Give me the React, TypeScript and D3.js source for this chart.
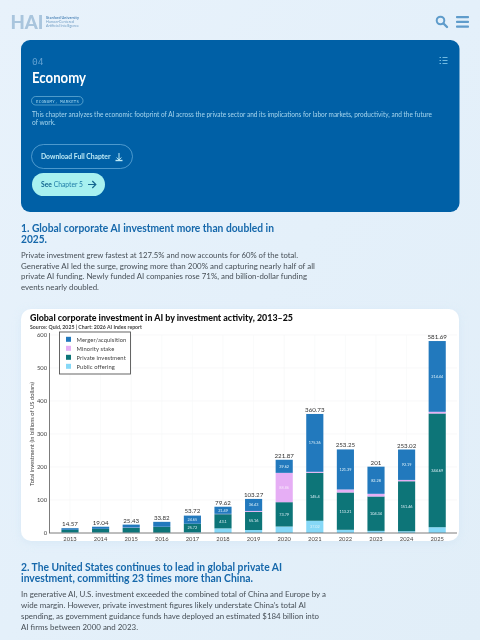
import React from "react";
import * as d3 from "d3";

const years = ["2013","2014","2015","2016","2017","2018","2019","2020","2021","2022","2023","2024","2025"];
const publicOffering = [1.5,1.5,1,0.8,2.35,14,9,19.6,37.02,9.65,6.38,5.37,17.56];
const privateInvestment = [8,11,14.5,17.5,25.72,43.1,55.16,73.79,145.4,113.21,104.34,151.46,344.69];
const minorityStake = [0.07,0.04,0.93,0.52,0,1.03,2.68,88.86,2.95,9,8,4,5];
const mergerAcquisition = [5,6.5,9,15,24.65,21.49,36.43,39.62,175.36,121.39,82.28,92.19,214.44];
const totals = ["14.57","19.04","25.43","33.82","53.72","79.62","103.27","221.87","360.73","253.25","201","253.02","581.69"];
const seriesNames = ["Public offering","Private investment","Minority stake","Merger/acquisition"];
const seriesColors = ["#86d8f7","#0f7478","#e6aef5","#2379bd"];
const legendOrder = [3,2,1,0];
const yTicks = [0,100,200,300,400,500,600];

const introLines = ["Private investment grew fastest at 127.5% and now accounts for 60% of the total.","Generative AI led the surge, growing more than 200% and capturing nearly half of all","private AI funding. Newly funded AI companies rose 71%, and billion-dollar funding","events nearly doubled."];
const introWidths = [277,294,286,78];
const usLines = ["In generative AI, U.S. investment exceeded the combined total of China and Europe by a","wide margin. However, private investment figures likely understate China’s total AI","spending, as government guidance funds have deployed an estimated $184 billion into","AI firms between 2000 and 2023."];
const usWidths = [305,285,298,117];

const F = "Lato, 'Noto Sans', sans-serif";
const MONO = "'DejaVu Sans Mono', monospace";

const x = d3.scaleBand<string>().domain(years).range([54.7, 452.5]).paddingInner(0.44).paddingOuter(0.22);
const y = d3.scaleLinear().domain([0, 600]).range([533, 335]);
const table = years.map((year, i) => ({ year, a: publicOffering[i], b: privateInvestment[i], c: minorityStake[i], d: mergerAcquisition[i] }));
const stacked = d3.stack<any>().keys(["a","b","c","d"])(table);

export default function App() {
  return (
    <svg width={480} height={640} viewBox="0 0 480 640" style={{ position: "absolute", left: 0, top: 0, display: "block" }} fontFamily={F}>
      <defs>
        <linearGradient id="bg" x1="0" y1="0" x2="1" y2="1">
          <stop offset="0" stopColor="#e8f2fb" /><stop offset="0.5" stopColor="#e4f0fa" /><stop offset="1" stopColor="#e1eef8" />
        </linearGradient>
        <filter id="soft" x="-10%" y="-10%" width="120%" height="120%"><feGaussianBlur stdDeviation="4" /></filter>
        <filter id="b" x="-2%" y="-2%" width="104%" height="104%"><feGaussianBlur stdDeviation="0.25" /></filter>
      </defs>
      <rect width={480} height={640} fill="url(#bg)" />
      <g filter="url(#b)">
        {/* header */}
        <text x={10.5} y={28.5} fontSize={18.5} fontWeight={900} fill="#a9c5dd" textLength={33} lengthAdjust="spacingAndGlyphs">HAI</text>
        <g fontSize={3.7} fill="#6f9cc4">
          <text x={46} y={18.8} fontWeight={700} fill="#4f86b8" textLength={33}>Stanford University</text>
          <text x={46} y={22.8} textLength={28}>Human-Centered</text>
          <text x={46} y={26.8} textLength={33}>Artificial Intelligence</text>
        </g>
        <circle cx={440.5} cy={20.5} r={3.8} fill="none" stroke="#5f9ccb" strokeWidth={2} />
        <line x1={443.5} y1={23.5} x2={447} y2={27} stroke="#5f9ccb" strokeWidth={2.4} strokeLinecap="round" />
        {[17, 21.8, 26.5].map(v => <rect key={v} x={456} y={v - 1} width={13} height={2.2} rx={0.8} fill="#5f9ccb" />)}

        {/* chapter card */}
        <rect x={21} y={40} width={438.5} height={172} rx={9} fill="#0060a6" />
        <text x={32} y={64.5} fontFamily={MONO} fontSize={9.5} fill="#5f9fd0">04</text>
        <text x={32} y={83} fontSize={14.5} fontWeight={700} fill="#ffffff" textLength={54} lengthAdjust="spacingAndGlyphs">Economy</text>
        {[57.5, 60.5, 63.5].map(v => (
          <g key={v} stroke="#8fd2f0" strokeWidth={0.8}>
            <line x1={439.5} y1={v} x2={441} y2={v} /><line x1={442.5} y1={v} x2={447.5} y2={v} />
          </g>
        ))}
        <rect x={31.5} y={96.5} width={51.5} height={8.5} rx={4.2} fill="none" stroke="#9fd6ef" strokeWidth={0.5} />
        <text x={36} y={102.5} fontFamily={MONO} fontSize={4} fill="#a8daf0" textLength={43}>ECONOMY, MARKETS</text>
        <g fontSize={6.6} fill="#a6d6ee">
          <text x={32} y={117} textLength={400} lengthAdjust="spacingAndGlyphs">This chapter analyzes the economic footprint  of AI across the private sector and its implications for labor markets, productivity, and the future</text>
          <text x={32} y={125}>of work.</text>
        </g>
        <rect x={31.5} y={144.5} width={101} height={24} rx={12} fill="none" stroke="#6fb2de" strokeWidth={0.7} />
        <text x={41} y={159} fontSize={7.2} fontWeight={700} fill="#bdeaf6" textLength={69.5} lengthAdjust="spacingAndGlyphs">Download Full Chapter</text>
        <g stroke="#bdeaf6" strokeWidth={1} fill="none">
          <path d="M119 153 V159.5 M116.7 157.5 L119 160 L121.3 157.5" /><path d="M115.5 160.5 H122.5" strokeWidth={1.4} />
        </g>
        <rect x={32} y={173} width={73} height={23} rx={11.5} fill="#a7f1f0" />
        <text x={41} y={187} fontSize={7.2} fill="#1f7da8" textLength={42} lengthAdjust="spacingAndGlyphs"><tspan fontWeight={700} fill="#14668f">See</tspan> Chapter 5</text>
        <path d="M88 184.5 H95.5 M92.3 181 L95.8 184.5 L92.3 188" fill="none" stroke="#14668f" strokeWidth={1.2} />

        {/* section 1 */}
        <g fontSize={10.6} fontWeight={700} fill="#1668ab">
          <text x={21} y={231.5} textLength={253} lengthAdjust="spacingAndGlyphs">1. Global corporate AI investment more than doubled in</text>
          <text x={21} y={242.5} textLength={26} lengthAdjust="spacingAndGlyphs">2025.</text>
        </g>
        <g fontSize={7.8} fill="#474f56">
          {introLines.map((t, i) => <text key={i} x={21} y={258 + i * 10.7} textLength={introWidths[i]} lengthAdjust="spacingAndGlyphs">{t}</text>)}
        </g>

        {/* chart card */}
        <rect x={21} y={311} width={438} height={232} rx={10} fill="#cfe3f3" opacity={0.6} filter="url(#soft)" />
        <rect x={21} y={309} width={438} height={232} rx={10} fill="#ffffff" />
        <text x={30} y={321} fontSize={9} fontWeight={900} fill="#111" textLength={263} lengthAdjust="spacingAndGlyphs">Global corporate investment in AI by investment activity, 2013–25</text>
        <text x={30} y={328.5} fontSize={5} fontWeight={700} fill="#444" textLength={112} lengthAdjust="spacingAndGlyphs">Source: Quid, 2025 | Chart: 2026 AI Index report</text>
        {yTicks.slice(1).map(t => <line key={t} x1={50} x2={457} y1={y(t)} y2={y(t)} stroke="#f3f4f5" strokeWidth={0.6} />)}
        {years.map(t => <line key={t} x1={x(t)! + x.bandwidth() / 2} x2={x(t)! + x.bandwidth() / 2} y1={335} y2={533} stroke="#f5f6f7" strokeWidth={0.6} />)}
        {stacked.map((s, si) => (
          <g key={s.key} fill={seriesColors[si]}>
            {s.map((d: any, i: number) => (
              <rect key={i} x={x(years[i])} width={x.bandwidth()} y={y(d[1])} height={Math.max(0, y(d[0]) - y(d[1]))} />
            ))}
          </g>
        ))}
        {stacked.map((s, si) => (
          <g key={s.key} fontSize={3.8} fontWeight={400} fill={si === 2 ? "#f7e6fb" : "#dff3fa"} textAnchor="middle">
            {s.map((d: any, i: number) => {
              const v = d[1] - d[0];
              return v >= 20 ? <text key={i} x={x(years[i])! + x.bandwidth() / 2} y={y((d[0] + d[1]) / 2) + 1.4}>{+v.toFixed(2)}</text> : null;
            })}
          </g>
        ))}
        <g fontSize={6.2} fill="#333" textAnchor="middle">
          {years.map((yr, i) => <text key={yr} x={x(yr)! + x.bandwidth() / 2} y={y(+totals[i]) - 2}>{totals[i]}</text>)}
        </g>
        <g fontSize={5.8} fill="#444" textAnchor="middle">
          {years.map(yr => <text key={yr} x={x(yr)! + x.bandwidth() / 2} y={541}>{yr}</text>)}
        </g>
        <g fontSize={5.8} fill="#444" textAnchor="end">
          {yTicks.map(t => <text key={t} x={47} y={y(t) + 2}>{t}</text>)}
        </g>
        <text transform="translate(33.5,434) rotate(-90)" textAnchor="middle" fontSize={5.8} fill="#444">Total investment (in billions of US dollars)</text>
        <line x1={49.5} x2={49.5} y1={333} y2={533} stroke="#6d6d6d" strokeWidth={0.9} />
        <line x1={49} x2={457} y1={533} y2={533} stroke="#6d6d6d" strokeWidth={0.9} />
        <rect x={59.5} y={332} width={71} height={42} fill="#ffffff" stroke="#555" strokeWidth={0.9} />
        {legendOrder.map((si, r) => (
          <g key={si}>
            <rect x={66} y={336.8 + r * 9} width={5} height={5} fill={seriesColors[si]} />
            <text x={76.5} y={341.8 + r * 9} fontSize={5.8} fill="#444" letterSpacing={0.1}>{seriesNames[si]}</text>
          </g>
        ))}

        {/* section 2 */}
        <g fontSize={10.6} fontWeight={700} fill="#1668ab">
          <text x={21} y={571} textLength={261} lengthAdjust="spacingAndGlyphs">2. The United States continues to lead in global private AI</text>
          <text x={21} y={582} textLength={232} lengthAdjust="spacingAndGlyphs">investment, committing 23 times more than China.</text>
        </g>
        <g fontSize={7.8} fill="#474f56">
          {usLines.map((t, i) => <text key={i} x={21} y={597 + i * 10.9} textLength={usWidths[i]} lengthAdjust="spacingAndGlyphs">{t}</text>)}
        </g>
      </g>
    </svg>
  );
}
